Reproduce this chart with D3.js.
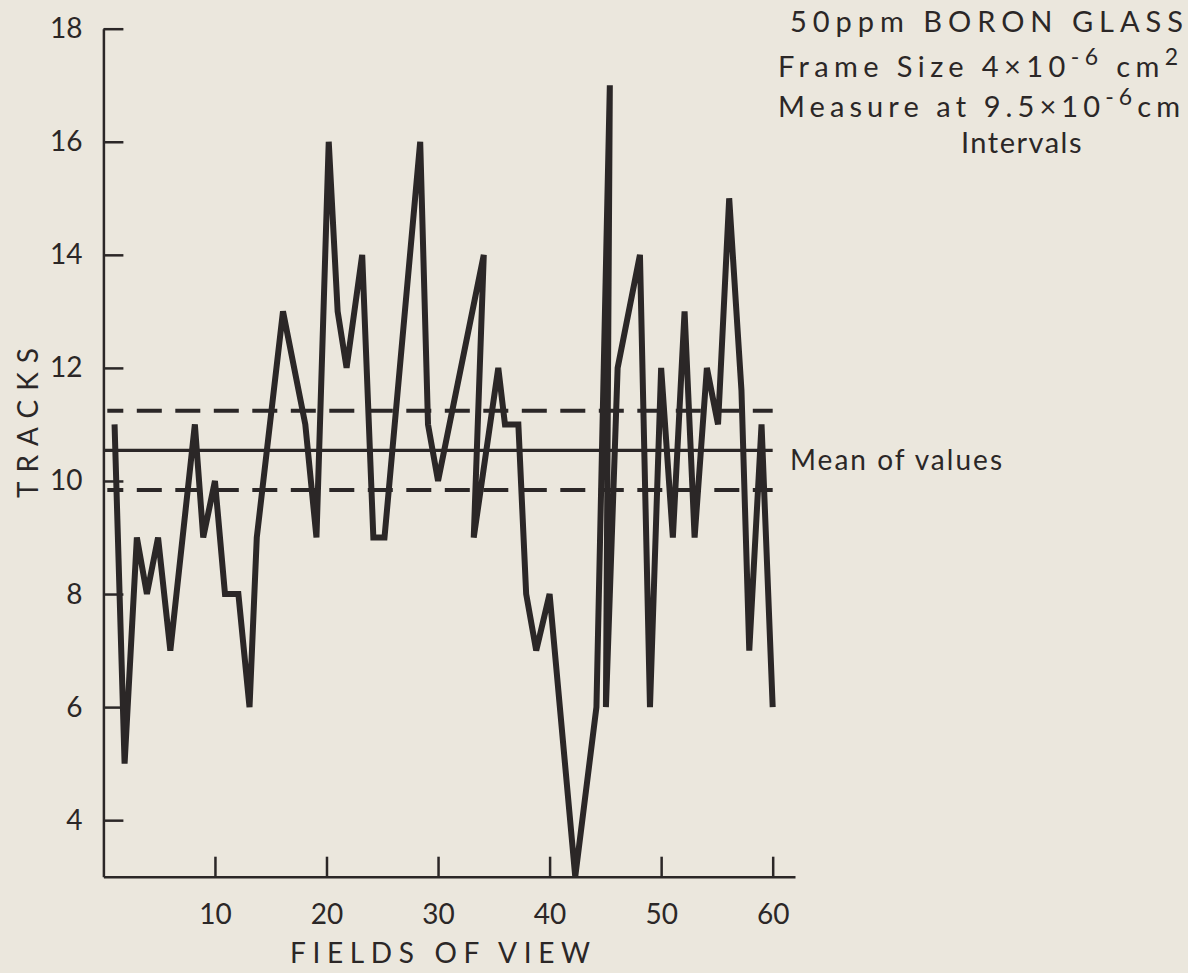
<!DOCTYPE html>
<html>
<head>
<meta charset="utf-8">
<title>Tracks per field of view</title>
<script src="https://cdn.jsdelivr.net/npm/d3@7"></script>
<style>
  html, body { margin: 0; padding: 0; background: #ebe7dd; }
  svg text { font-family: Lato, "Open Sans", sans-serif; fill: #2b2727; }
</style>
</head>
<body>
<script>
// field position (as drawn) and track count for each vertex of the trace
var fields = [1.0, 1.9, 3.0, 3.9, 4.9, 6.0, 8.2, 8.95, 10.0, 10.9, 12.1, 13.1, 13.75,
              16.1, 18.1, 19.1, 20.2, 21.0, 21.8, 23.2, 24.2, 25.2, 28.4, 29.1, 30.0,
              34.1, 33.2, 35.4, 36.0, 37.2, 37.9, 38.8, 40.0, 42.3, 44.2, 45.4, 45.05,
              46.1, 48.1, 49.0, 50.0, 51.05, 52.1, 53.0, 54.1, 55.1, 56.1, 57.2, 57.9,
              59.0, 60.0];
var tracks = [11, 5, 9, 8, 9, 7, 11, 9, 10, 8, 8, 6, 9,
              13, 11, 9, 16, 13, 12, 14, 9, 9, 16, 11, 10,
              14, 9, 12, 11, 11, 8, 7, 8, 3, 6, 17, 6,
              12, 14, 6, 12, 9, 13, 9, 12, 11, 15, 11.6, 7,
              11, 6];

var meanValue = 10.54;
var bandLevels = [11.24, 9.84];

var xTicks = [10, 20, 30, 40, 50, 60];
var yTicks = [4, 6, 8, 10, 12, 14, 16, 18];

var notes = ["50ppm BORON GLASS", "Frame Size 4\u00d710", "Measure at 9.5\u00d710", "Intervals"];

var w = 1188, h = 973;

var svg = d3.select("body").append("svg")
    .attr("width", w)
    .attr("height", h);

svg.append("rect")
    .attr("width", w)
    .attr("height", h)
    .attr("fill", "#ebe7dd");

var x = d3.scaleLinear().domain([0, 62]).range([103.4, 795]);
var y = d3.scaleLinear().domain([3, 18]).range([876.7, 28.7]);

var ink = "#2b2727";

// axes, ticks pointing into the plot
var xAxis = d3.axisBottom(x)
    .tickValues(xTicks)
    .tickSizeInner(-20)
    .tickSizeOuter(0)
    .tickPadding(27);

var yAxis = d3.axisLeft(y)
    .tickValues(yTicks)
    .tickSizeInner(-20)
    .tickSizeOuter(0)
    .tickPadding(21);

var gx = svg.append("g")
    .attr("transform", "translate(0," + y(3) + ")")
    .call(xAxis);

var gy = svg.append("g")
    .attr("transform", "translate(" + x(0) + ",0)")
    .call(yAxis);

[gx, gy].forEach(function(g) {
  g.select(".domain").attr("stroke", ink).attr("stroke-width", 2.5);
  g.selectAll(".tick line").attr("stroke", ink).attr("stroke-width", 2.5);
  g.selectAll(".tick text")
    .attr("font-size", 28)
    .attr("fill", ink)
    .style("font-family", "Lato, sans-serif");
});

// mean and band lines
svg.append("line")
    .attr("x1", x(0)).attr("x2", x(60))
    .attr("y1", y(meanValue)).attr("y2", y(meanValue))
    .attr("stroke", ink)
    .attr("stroke-width", 3.2);

svg.selectAll(".band")
    .data(bandLevels)
    .enter().append("line")
    .attr("class", "band")
    .attr("x1", x(0.35)).attr("x2", x(60))
    .attr("y1", function(d) { return y(d); })
    .attr("y2", function(d) { return y(d); })
    .attr("stroke", ink)
    .attr("stroke-width", 4)
    .attr("stroke-dasharray", "25 13.5")
    .attr("stroke-dashoffset", 9);

// the trace
var line = d3.line()
    .x(function(d, i) { return x(fields[i]); })
    .y(function(d) { return y(d); });

svg.append("path")
    .attr("d", line(tracks))
    .attr("fill", "none")
    .attr("stroke", ink)
    .attr("stroke-width", 6)
    .attr("stroke-linejoin", "miter");

// labels
svg.append("text")
    .text("Mean of values")
    .attr("x", 790)
    .attr("y", 470)
    .attr("font-size", 28)
    .attr("textLength", 212)
    .attr("lengthAdjust", "spacing");

svg.append("text")
    .text("FIELDS OF VIEW")
    .attr("x", 440)
    .attr("y", 963)
    .attr("text-anchor", "middle")
    .attr("font-size", 28)
    .attr("textLength", 300)
    .attr("lengthAdjust", "spacing");

svg.append("text")
    .text("TRACKS")
    .attr("transform", "translate(38,423) rotate(-90)")
    .attr("text-anchor", "middle")
    .attr("font-size", 28)
    .attr("textLength", 150)
    .attr("lengthAdjust", "spacing");

// note block, top right
svg.append("text")
    .attr("x", 790).attr("y", 32)
    .attr("font-size", 29)
    .attr("textLength", 393)
    .attr("lengthAdjust", "spacing")
    .text(notes[0]);

var n2 = svg.append("text")
    .attr("x", 778).attr("y", 77)
    .attr("font-size", 29)
    .attr("textLength", 400)
    .attr("lengthAdjust", "spacing");
n2.append("tspan").text(notes[1]);
n2.append("tspan").attr("dy", -12).attr("font-size", 23).text("-6");
n2.append("tspan").attr("dy", 12).text(" cm");
n2.append("tspan").attr("dy", -12).attr("font-size", 23).text("2");

var n3 = svg.append("text")
    .attr("x", 778).attr("y", 117)
    .attr("font-size", 29)
    .attr("textLength", 402)
    .attr("lengthAdjust", "spacing");
n3.append("tspan").text(notes[2]);
n3.append("tspan").attr("dy", -12).attr("font-size", 23).text("-6");
n3.append("tspan").attr("dy", 12).text("cm");

svg.append("text")
    .attr("x", 1022).attr("y", 153)
    .attr("text-anchor", "middle")
    .attr("font-size", 29)
    .attr("letter-spacing", 1.5)
    .text(notes[3]);
</script>
</body>
</html>
